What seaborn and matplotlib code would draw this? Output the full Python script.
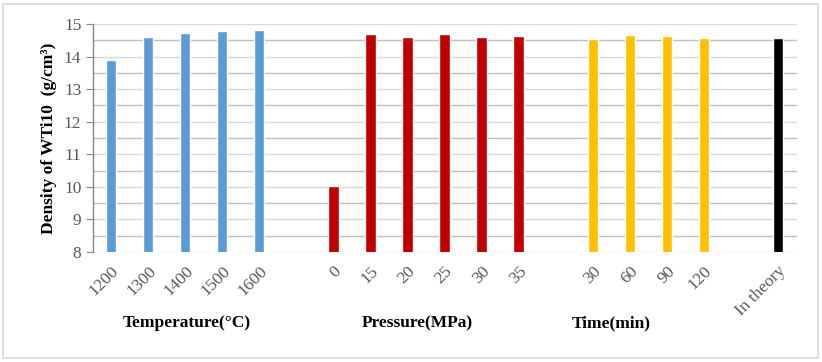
import matplotlib
matplotlib.use("Agg")
import matplotlib.pyplot as plt
import matplotlib.transforms as mtransforms
from matplotlib.patches import Rectangle
from matplotlib.ticker import MultipleLocator
import seaborn as sns
import pandas as pd

# ---- data ----
temp_labels = ["1200", "1300", "1400", "1500", "1600"]
temp_values = [13.88, 14.60, 14.73, 14.79, 14.82]
press_labels = ["0", "15", "20", "25", "30", "35"]
press_values = [10.03, 14.69, 14.60, 14.69, 14.60, 14.63]
time_labels = ["30", "60", "90", "120"]
time_values = [14.54, 14.66, 14.63, 14.57]
theory_labels = ["In theory"]
theory_values = [14.58]
group_names = ["Temperature(°C)", "Pressure(MPa)", "Time(min)"]

colors = {"Temperature": "#5B9BD5", "Pressure": "#C00000", "Time": "#FFC000", "Theory": "#000000"}

rows = []
order = []
ticklabels = []
for grp, labs, vals in [("Temperature", temp_labels, temp_values),
                        ("Pressure", press_labels, press_values),
                        ("Time", time_labels, time_values),
                        ("Theory", theory_labels, theory_values)]:
    for l, v in zip(labs, vals):
        key = f"{grp}_{l}"
        rows.append({"key": key, "value": v, "group": grp})
        order.append(key)
        ticklabels.append(l)
    if grp != "Theory":
        order.append(f"gap_{grp}")
        ticklabels.append("")
df = pd.DataFrame(rows)

sns.set_style("white")
plt.rcParams["font.family"] = ["Liberation Serif", "DejaVu Serif"]

fig = plt.figure(figsize=(8.22, 3.62), dpi=100)
ax = fig.add_axes([92.5 / 822, 1 - 252 / 362, (796.5 - 92.5) / 822, (252 - 24) / 362])

sns.barplot(data=df, x="key", y="value", hue="group", order=order,
            palette=colors, dodge=False, width=0.28, legend=False, ax=ax,
            saturation=1)

ax.set_ylim(8, 15)
ax.set_xlim(-0.5, len(order) - 0.5)
ax.yaxis.set_major_locator(MultipleLocator(1))
ax.yaxis.set_minor_locator(MultipleLocator(0.5))
ax.grid(axis="y", which="major", color="#d9d9d9", linewidth=1)
ax.grid(axis="y", which="minor", color="#bfbfbf", linewidth=1)
ax.set_axisbelow(True)

for s in ["top", "right", "bottom"]:
    ax.spines[s].set_visible(False)
ax.spines["left"].set_color("#868686")
ax.spines["left"].set_linewidth(1)
ax.tick_params(axis="y", which="major", length=5, color="#868686", direction="out",
               labelsize=12.5, labelcolor="#595959", left=True, pad=3)
ax.tick_params(axis="y", which="minor", length=0)
ax.tick_params(axis="x", length=0, labelsize=12.5, labelcolor="#595959", pad=8)

ax.set_xticks(range(len(order)))
ax.set_xticklabels(ticklabels, rotation=45, ha="right", rotation_mode="anchor")
ax.set_xlabel("")
ax.set_ylabel("Density of WTi10  (g/cm³)", fontsize=12.5, fontweight="bold",
              color="black", labelpad=5)

trans = mtransforms.blended_transform_factory(ax.transData, fig.transFigure)
for name, xc in zip(group_names, [2.05, 8.27, 13.49]):
    ax.text(xc, 1 - 323 / 362, name, transform=trans, ha="center", va="center",
            fontsize=12.5, fontweight="bold", color="black")

fig.patches.append(Rectangle((3 / 822, 4 / 362), 815 / 822, 354 / 362,
                             transform=fig.transFigure, fill=False,
                             edgecolor="#d9d9d9", linewidth=1.2))

fig.savefig("out.png", dpi=100)
